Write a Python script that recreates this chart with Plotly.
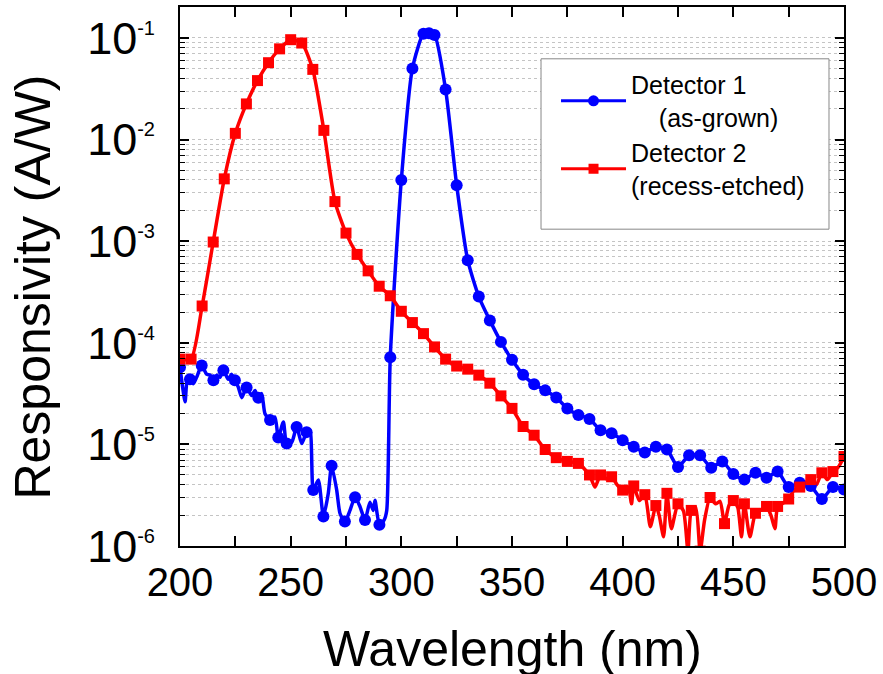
import plotly.graph_objects as go

# ---------------- data ----------------
# Detector 1 (as-grown): wavelength (nm) and responsivity (A/W)
d1_wl = [200.0, 201.2, 202.3, 203.3, 204.5, 206.0, 207.5, 209.8, 212.0, 213.6,
         215.1, 216.6, 218.1, 219.6, 221.8, 223.3, 224.8, 226.4, 227.9, 230.1,
         232.4, 233.9, 235.4, 236.9, 238.4, 240.7, 242.9, 244.4, 246.7, 248.2,
         250.5, 252.7, 255.0, 257.2, 258.7, 260.2, 262.5, 264.8, 267.0, 268.5,
         270.8, 272.3, 274.5, 276.8, 279.1, 281.3, 283.6, 285.8, 287.3, 288.1,
         290.1, 292.2, 293.4,
         295, 300, 305, 310, 312.5, 315, 320, 325, 330, 335, 340, 345, 350, 355,
         360, 365, 370, 375, 380, 385, 390, 395, 400, 405, 410, 415, 420, 425,
         430, 435, 440, 445, 450, 455, 460, 465, 470, 475, 480, 485, 490, 495, 500]
d1_resp = [5.75e-5, 3.63e-5, 2.63e-5, 4.27e-5, 4.37e-5, 3.94e-5, 4.57e-5, 5.96e-5, 4.9e-5, 4.79e-5,
           4.27e-5, 4.79e-5, 4.57e-5, 5.37e-5, 4.37e-5, 4.9e-5, 4.27e-5, 3.63e-5, 2.88e-5, 3.63e-5,
           3.02e-5, 3.39e-5, 2.88e-5, 3.16e-5, 2.0e-5, 1.74e-5, 1.86e-5, 1.17e-5, 1.66e-5, 1.02e-5,
           1.05e-5, 1.48e-5, 1.02e-5, 1.32e-5, 1.38e-5, 3.55e-6, 4.47e-6, 1.95e-6, 3.31e-6, 6.17e-6,
           3.55e-6, 2.09e-6, 1.74e-6, 2.24e-6, 3.02e-6, 2.45e-6, 1.8e-6, 2.69e-6, 2.24e-6, 2.82e-6,
           1.62e-6, 1.8e-6, 2.24e-6,
           7.2e-5, 4.0e-3, 5.0e-2, 0.110, 0.111, 0.107, 3.1e-2, 3.55e-3, 6.5e-4, 2.85e-4, 1.66e-4,
           1.02e-4, 6.8e-5, 4.85e-5, 3.9e-5, 3.4e-5, 2.9e-5, 2.25e-5, 1.95e-5, 1.78e-5, 1.38e-5,
           1.29e-5, 1.1e-5, 9.5e-6, 8.3e-6, 9.5e-6, 8.9e-6, 6.0e-6, 7.8e-6, 7.8e-6, 5.9e-6, 6.8e-6,
           5.1e-6, 4.5e-6, 5.25e-6, 4.7e-6, 5.4e-6, 3.8e-6, 4.2e-6, 3.9e-6, 2.9e-6, 3.8e-6, 3.6e-6]
d1_marker_wl = [200.0, 204.5, 209.8, 215.1, 219.6, 224.8, 230.1, 235.4, 240.7, 244.4,
                248.2, 252.7, 257.2, 260.2, 264.8, 268.5, 274.5, 279.1, 283.6, 290.1,
                295, 300, 305, 310, 312.5, 315, 320, 325, 330, 335, 340, 345, 350, 355,
                360, 365, 370, 375, 380, 385, 390, 395, 400, 405, 410, 415, 420, 425,
                430, 435, 440, 445, 450, 455, 460, 465, 470, 475, 480, 485, 490, 495, 500]

# Detector 2 (recess-etched)
d2_wl = [200, 205, 210, 215, 220, 225, 230, 235, 240, 245, 250, 255, 260, 265, 270,
         275, 280, 285, 290, 295, 300, 305, 310, 315, 320, 325, 330, 335, 340, 345,
         350, 355, 360, 365, 370, 375, 380, 385, 387.5, 390, 392.5, 395, 397.5, 400,
         402.5, 404, 405, 407.5, 410, 412.5, 415, 416.5, 418.5, 420, 422, 425, 427.5,
         429.5, 431, 433, 435, 437, 439.5, 442, 444, 446, 448, 450, 452, 453.7, 455,
         457.5, 460, 462.5, 465, 467, 468.8, 470, 472, 475, 477.5, 480, 482.5, 485,
         487.5, 490, 492.5, 495, 497.5, 500]
d2_resp = [6.9e-5, 6.9e-5, 2.3e-4, 9.8e-4, 4.1e-3, 1.15e-2, 2.24e-2, 3.8e-2, 5.7e-2, 7.8e-2,
           9.6e-2, 8.9e-2, 4.9e-2, 1.23e-2, 2.45e-3, 1.2e-3, 7.4e-4, 5.1e-4, 3.6e-4, 2.9e-4,
           2.04e-4, 1.58e-4, 1.23e-4, 9.1e-5, 6.9e-5, 5.9e-5, 5.5e-5, 4.8e-5, 4.0e-5, 3.0e-5,
           2.26e-5, 1.5e-5, 1.23e-5, 8.9e-6, 7.4e-6, 6.8e-6, 6.5e-6, 5.0e-6, 3.8e-6, 5.0e-6,
           4.6e-6, 4.8e-6, 4.0e-6, 3.55e-6, 3.8e-6, 2.6e-6, 3.9e-6, 2.8e-6, 3.2e-6, 1.55e-6,
           2.5e-6, 2.0e-6, 1.23e-6, 3.3e-6, 1.48e-6, 2.6e-6, 2.2e-6, 8.9e-7, 2.24e-6, 2.4e-6,
           8.9e-7, 1.8e-6, 3.0e-6, 2.6e-6, 2.75e-6, 1.66e-6, 2.5e-6, 2.8e-6, 2.4e-6, 1.23e-6,
           2.6e-6, 1.23e-6, 2.1e-6, 2.25e-6, 2.45e-6, 2.0e-6, 1.48e-6, 2.45e-6, 2.6e-6, 2.9e-6,
           3.55e-6, 3.8e-6, 4.2e-6, 4.5e-6, 4.0e-6, 5.25e-6, 4.5e-6, 5.4e-6, 6.0e-6, 7.6e-6]
d2_marker_wl = [200, 205, 210, 215, 220, 225, 230, 235, 240, 245, 250, 255, 260, 265, 270,
                275, 280, 285, 290, 295, 300, 305, 310, 315, 320, 325, 330, 335, 340, 345,
                350, 355, 360, 365, 370, 375, 380, 385, 390, 395, 400, 405, 410, 415, 420,
                425, 431, 435, 439.5, 446, 450, 455, 460, 465, 470, 475, 480, 485, 490, 495, 500]

x_tick_vals = [200, 250, 300, 350, 400, 450, 500]
y_tick_vals = [1e-6, 1e-5, 1e-4, 1e-3, 1e-2, 1e-1]
y_tick_exps = ["-6", "-5", "-4", "-3", "-2", "-1"]

legend_names = ["Detector 1<br>&nbsp;&nbsp;&nbsp;&nbsp;(as-grown)",
                "Detector 2<br>(recess-etched)"]

BLUE = "#0000FF"
RED = "#FF0000"
FONT = "Liberation Sans, Arial, sans-serif"

d1_map = dict(zip(d1_wl, d1_resp))
d2_map = dict(zip(d2_wl, d2_resp))

fig = go.Figure()

# dense lines
fig.add_trace(go.Scatter(x=d1_wl, y=d1_resp, mode="lines", showlegend=False,
                         line=dict(color=BLUE, width=3.5, shape="spline", smoothing=0.6),
                         hoverinfo="skip"))
fig.add_trace(go.Scatter(x=d2_wl, y=d2_resp, mode="lines", showlegend=False,
                         line=dict(color=RED, width=3.5, shape="spline", smoothing=0.6),
                         hoverinfo="skip"))
# markers
fig.add_trace(go.Scatter(x=d1_marker_wl, y=[d1_map[w] for w in d1_marker_wl], mode="markers",
                         showlegend=False, marker=dict(color=BLUE, size=12, symbol="circle")))
fig.add_trace(go.Scatter(x=d2_marker_wl, y=[d2_map[w] for w in d2_marker_wl], mode="markers",
                         showlegend=False, marker=dict(color=RED, size=11, symbol="square")))
# legend entries
fig.add_trace(go.Scatter(x=[None], y=[None], mode="lines+markers", name=legend_names[0],
                         line=dict(color=BLUE, width=3), marker=dict(color=BLUE, size=11, symbol="circle")))
fig.add_trace(go.Scatter(x=[None], y=[None], mode="lines+markers", name=legend_names[1],
                         line=dict(color=RED, width=3), marker=dict(color=RED, size=10, symbol="square")))

grid_col = "#c4c4c4"

fig.update_xaxes(range=[200, 500], tickvals=x_tick_vals, ticks="inside", ticklen=10,
                 tickwidth=1.5, tickcolor="black", showline=True, linecolor="black",
                 linewidth=2, mirror="ticks", showgrid=False, zeroline=False,
                 tickfont=dict(family=FONT, size=40, color="black"),
                 minor=dict(dtick=25, ticks="inside", ticklen=10, tickwidth=1.5,
                            tickcolor="black", showgrid=False))
fig.update_yaxes(type="log", range=[-6, -0.696], tickvals=y_tick_vals,
                 ticktext=["10<sup><span style='font-size:20px'>%s</span></sup>" % e for e in y_tick_exps],
                 ticks="inside", ticklen=9, tickwidth=1.5, tickcolor="black",
                 showline=True, linecolor="black", linewidth=2, mirror="ticks",
                 showgrid=True, gridcolor=grid_col, griddash="dot", gridwidth=1,
                 zeroline=False, ticklabelstandoff=14,
                 tickfont=dict(family=FONT, size=45, color="black"),
                 minor=dict(dtick="D1", ticks="inside", ticklen=5, tickwidth=1,
                            tickcolor="black", showgrid=True, gridcolor=grid_col,
                            griddash="dot", gridwidth=1))

fig.update_layout(
    width=883, height=674,
    margin=dict(l=180, r=39, t=5, b=128),
    paper_bgcolor="white", plot_bgcolor="white",
    font=dict(family=FONT, color="black"),
    showlegend=True,
    legend=dict(x=0.5663, y=0.8983, xanchor="left", yanchor="top",
                bgcolor="rgba(0,0,0,0)", borderwidth=0,
                font=dict(family=FONT, size=25, color="black"),
                itemwidth=65, tracegroupgap=0),
    shapes=[dict(type="rect", xref="paper", yref="paper",
                 x0=0.5437, x1=0.9774, y0=0.5878, y1=0.9039,
                 line=dict(color="#888888", width=1), fillcolor="white", layer="above")],
    annotations=[
        dict(text="Wavelength (nm)", xref="paper", yref="paper", x=0.5, y=-0.192,
             xanchor="center", yanchor="middle", showarrow=False,
             font=dict(family=FONT, size=50, color="black")),
        dict(text="Responsivity (A/W)", xref="paper", yref="paper", x=-0.222, y=0.4806,
             xanchor="center", yanchor="middle", showarrow=False, textangle=-90,
             font=dict(family=FONT, size=50, color="black")),
    ],
)

fig.write_html("out.html")
